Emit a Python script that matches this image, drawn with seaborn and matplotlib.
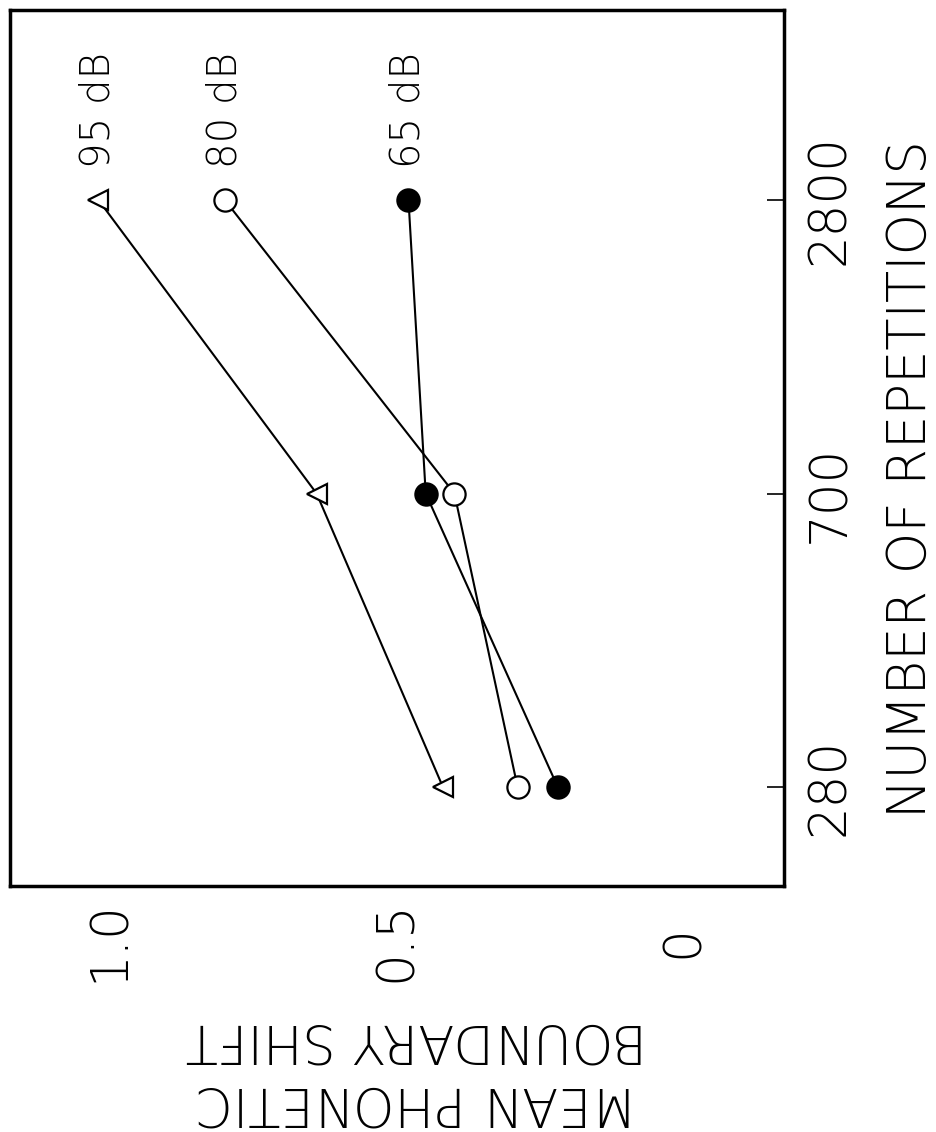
import matplotlib
matplotlib.use("Agg")

import matplotlib.pyplot as plt
import numpy as np
import pandas as pd
import seaborn as sns

# ── Data ───────────────────────────────────────────────────────────────
# the figure is printed rotated: repetitions run up the page,
# boundary shift runs right-to-left along the bottom
repetitions = [280, 700, 2800]
levels = ["95 dB", "80 dB", "65 dB"]
shift_95 = [0.42, 0.64, 1.02]
shift_80 = [0.29, 0.40, 0.80]
shift_65 = [0.22, 0.45, 0.48]
shift_ticks = [1.0, 0.5, 0]
shift_tick_labels = ["1.0", "0.5", "0"]

series = {"95 dB": shift_95, "80 dB": shift_80, "65 dB": shift_65}
marker_style = {
    "95 dB": dict(marker="<", markerfacecolor="white", markersize=15),
    "80 dB": dict(marker="o", markerfacecolor="white", markersize=16),
    "65 dB": dict(marker="o", markerfacecolor="black", markersize=16),
}

rows = []
for lev in levels:
    for i, (r, s) in enumerate(zip(repetitions, series[lev])):
        rows.append({"level": lev, "reps": r, "pos": i, "shift": s})
df = pd.DataFrame(rows)

# ── Plot ───────────────────────────────────────────────────────────────
sns.set_style("white")
plt.rcParams["font.family"] = ["DejaVu Sans"]
plt.rcParams["font.weight"] = "light"
plt.rcParams["text.color"] = "black"
plt.rcParams["xtick.color"] = "black"
plt.rcParams["ytick.color"] = "black"

fig = plt.figure(figsize=(9.37, 11.32), dpi=100)
ax = fig.add_axes([10 / 937, 1 - 886 / 1132, 774 / 937, 876 / 1132])

for lev in levels:
    sub = df[df["level"] == lev]
    sns.lineplot(
        data=sub, x="shift", y="pos", orient="y", sort=False, ax=ax,
        color="black", linewidth=1.5, markeredgecolor="black",
        markeredgewidth=1.6, legend=False, **marker_style[lev],
    )
    last = sub.iloc[-1]
    ax.annotate(
        lev, xy=(last["shift"], last["pos"]), xytext=(0, 23),
        textcoords="offset points", rotation=90, ha="center", va="bottom",
        fontsize=29,
    )

ax.set_xlim(1.174, -0.174)
ax.set_ylim(-0.337, 2.647)

ax.set_xticks(shift_ticks)
ax.set_xticklabels(shift_tick_labels, rotation=90, fontsize=37)
for lbl in ax.get_xticklabels():
    lbl.set_va("center")
ax.tick_params(axis="x", direction="in", length=11.5, width=1.2, pad=40)

ax.set_yticks(range(len(repetitions)))
ax.set_yticklabels([str(r) for r in repetitions], rotation=90, fontsize=37)
ax.yaxis.tick_right()
ax.tick_params(axis="y", direction="in", length=12, width=1.2, pad=15)
for lbl in ax.get_yticklabels():
    lbl.set_ha("left")
    lbl.set_va("center")

ax.set_xlabel("")
ax.set_ylabel("")
for sp in ax.spines.values():
    sp.set_visible(True)
    sp.set_color("black")
    sp.set_linewidth(2.5)

ax.text(1.164, 0.465, "NUMBER OF REPETITIONS", transform=ax.transAxes,
        rotation=90, ha="center", va="center", fontsize=38)
ax.text(0.525, -0.210, "MEAN PHONETIC\nBOUNDARY SHIFT", transform=ax.transAxes,
        rotation=180, ha="center", va="center", fontsize=38, linespacing=1.25)

fig.savefig("out.png", dpi=100, facecolor="white")
